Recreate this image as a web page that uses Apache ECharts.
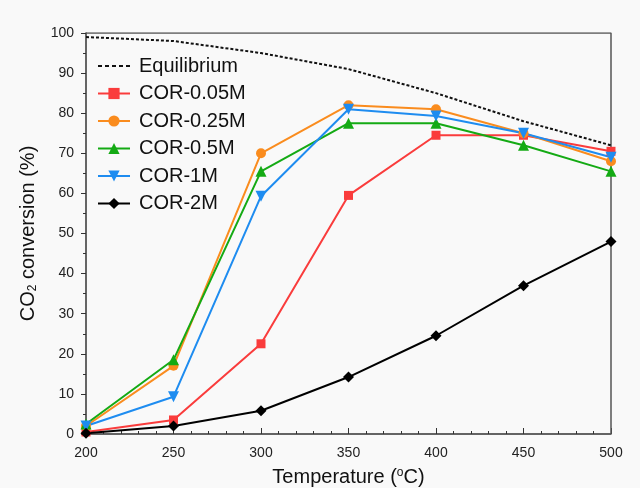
<!DOCTYPE html>
<html style="height: 100%">
<head>
    <meta charset="utf-8">
    <script src="https://cdn.jsdelivr.net/npm/echarts@6/dist/echarts.min.js"></script>
</head>
<body style="height: 100%; margin: 0; background: #f9f9f9;">
    <div id="container" style="width: 640px; height: 488px;"></div>
    <script type="text/javascript">
        // 数据
        var temps = [200, 250, 300, 350, 400, 450, 500];
        var equilibrium = [99, 98, 95, 91, 85, 78, 72];
        var cor005 = [0.5, 3.5, 22.5, 59.5, 74.5, 74.5, 70.5];
        var cor025 = [2, 17, 70, 82, 81, 75, 68];
        var cor05 = [2.5, 18.5, 65.5, 77.5, 77.5, 72, 65.5];
        var cor1 = [2, 9.3, 59.3, 81, 79.3, 75, 69];
        var cor2 = [0.2, 2, 5.8, 14.2, 24.5, 37, 48];

        function pairs(arr) {
            return temps.map(function (t, i) { return [t, arr[i]]; });
        }

        function mkSeries(name, arr, color, symbol, size, rotate) {
            return {
                name: name,
                type: 'line',
                data: pairs(arr),
                symbol: symbol,
                symbolSize: size,
                symbolRotate: rotate || 0,
                showAllSymbol: true,
                lineStyle: { color: color, width: 2 },
                itemStyle: { color: color },
                z: 3
            };
        }

        var font = 'Liberation Sans, Arial, sans-serif';
        var chart = echarts.init(document.getElementById('container'));

        var option = {
            backgroundColor: '#f9f9f9',
            animation: false,
            textStyle: { fontFamily: font },
            grid: { left: 86, right: 29, top: 33, bottom: 54, containLabel: false, outerBoundsMode: 'none' },
            legend: {
                orient: 'vertical',
                left: 92,
                top: 51,
                itemGap: 7.5,
                itemWidth: 32,
                itemHeight: 14,
                textStyle: { fontSize: 20, color: '#111', fontFamily: font, padding: [0, 0, 0, 4] },
                data: [
                    { name: 'Equilibrium', icon: 'path://M0,6h4v2h-4z M7,6h4v2h-4z M14,6h4v2h-4z M21,6h4v2h-4z M28,6h4v2h-4z', itemStyle: { color: '#111' } },
                    'COR-0.05M', 'COR-0.25M', 'COR-0.5M', 'COR-1M', 'COR-2M'
                ]
            },
            xAxis: {
                type: 'value',
                min: 200,
                max: 500,
                interval: 50,
                name: '{a|Temperature (}{s|o}{a|C)}',
                nameLocation: 'middle',
                nameGap: 33,
                nameTextStyle: {
                    rich: {
                        a: { fontSize: 20, color: '#111', fontFamily: font },
                        s: { fontSize: 12, color: '#111', fontFamily: font, padding: [0, 0, 9, 0] }
                    }
                },
                axisLine: { show: true, onZero: false, lineStyle: { color: '#333', width: 1.5 } },
                axisTick: { show: true, inside: true, length: 6, lineStyle: { color: '#333' } },
                minorTick: { show: true, splitNumber: 5, length: 3, lineStyle: { color: '#333' } },
                axisLabel: { fontSize: 14, color: '#222', margin: 12 },
                splitLine: { show: false }
            },
            yAxis: {
                type: 'value',
                min: 0,
                max: 100,
                interval: 10,
                name: '{a|CO}{s|2}{a| conversion (%)}',
                nameLocation: 'middle',
                nameGap: 47,
                nameRotate: 90,
                nameTextStyle: {
                    rich: {
                        a: { fontSize: 20, color: '#111', fontFamily: font },
                        s: { fontSize: 12, color: '#111', fontFamily: font, padding: [9, 0, 0, 0] }
                    }
                },
                axisLine: { show: true, onZero: false, lineStyle: { color: '#333', width: 1.5 } },
                axisTick: { show: true, length: 5, lineStyle: { color: '#333' } },
                minorTick: { show: true, splitNumber: 2, length: 3, lineStyle: { color: '#333' } },
                axisLabel: { fontSize: 14, color: '#222', margin: 12 },
                splitLine: { show: false }
            },
            series: [
                {
                    name: 'Equilibrium',
                    type: 'line',
                    data: pairs(equilibrium),
                    symbol: 'none',
                    lineStyle: { color: '#111', width: 2, type: [3, 2] },
                    itemStyle: { color: '#111' },
                    z: 2
                },
                mkSeries('COR-0.05M', cor005, '#fa3c3c', 'rect', 9),
                mkSeries('COR-0.25M', cor025, '#fa8c1e', 'circle', 10),
                mkSeries('COR-0.5M', cor05, '#14aa14', 'triangle', 11),
                mkSeries('COR-1M', cor1, '#1e8cf0', 'triangle', 11, 180),
                mkSeries('COR-2M', cor2, '#000000', 'diamond', 11),
                // 上、右边框
                {
                    type: 'line',
                    data: [[200, 100], [500, 100], [500, 0]],
                    symbol: 'none',
                    silent: true,
                    lineStyle: { color: '#555', width: 1.5 },
                    z: 1,
                    tooltip: { show: false }
                }
            ]
        };

        chart.setOption(option);
    </script>
</body>
</html>
